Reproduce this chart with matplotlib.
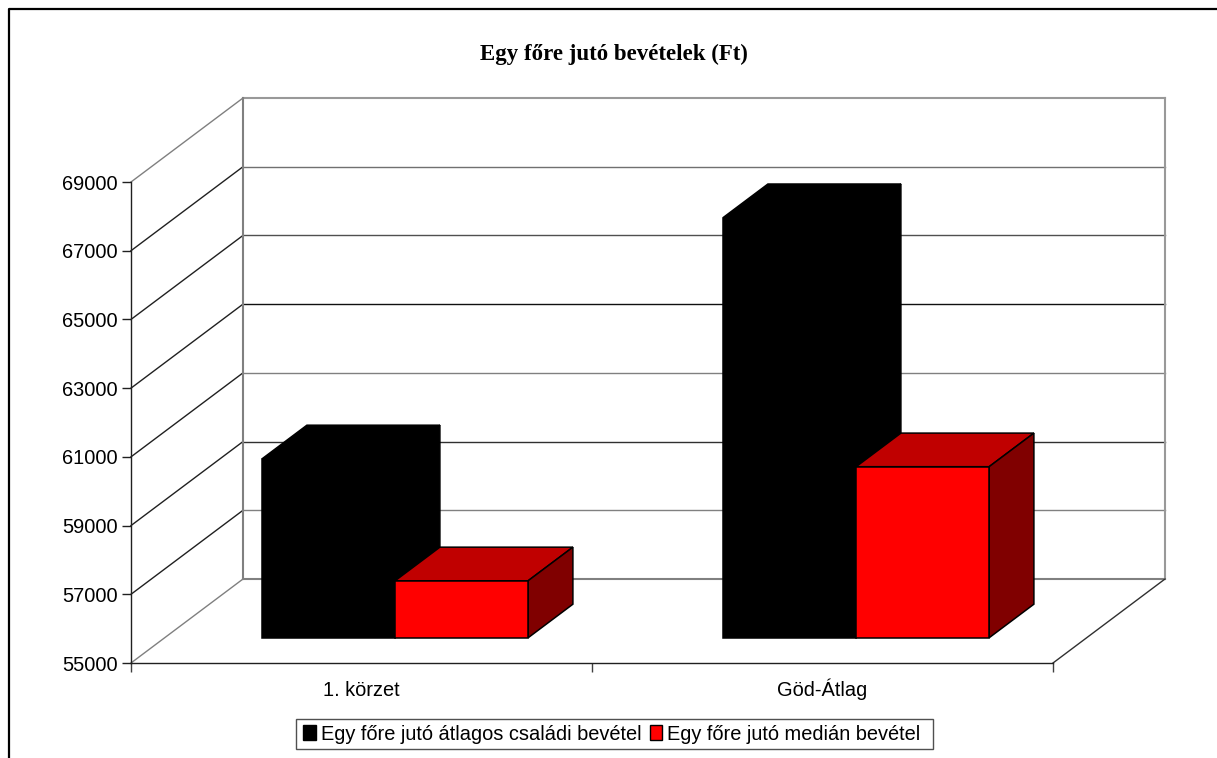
import matplotlib.pyplot as plt
from matplotlib.lines import Line2D
from matplotlib.patches import Patch, Polygon, Rectangle

W, H = 1217, 758

CATEGORIES = ["1. körzet", "Göd-Átlag"]
SERIES = ["Egy főre jutó átlagos családi bevétel", "Egy főre jutó medián bevétel"]
ATLAG = [60210, 67230]
MEDIAN = [56660, 59980]
Y_TICKS = [55000, 57000, 59000, 61000, 63000, 65000, 67000, 69000]

GREY = "#808080"
RED_FACES = ("#ff0000", "#c00000", "#800000")
BLACK_FACES = ("#000000", "#000000", "#000000")

# wall lines render in different greys in the reference
WALL_COLORS = ["#808080", "#808080", "#303030", "#808080",
               "#101010", "#505050", "#707070", "#999999"]

# the 3D box is sheared: full depth moves this far in data units
DEPTH_X = 112 / 461
DEPTH_Y = 84 / (481 / 14000)
GAP = 97.5 / 461  # gap each side of a bar group, in category widths
BAR_W = 133 / 461
BAR_DEPTH_FROM = 0.30
BAR_DEPTH_TO = 0.70

plt.rcParams["font.family"] = ["Liberation Sans", "DejaVu Sans"]

fig = plt.figure(figsize=(W / 100, H / 100), dpi=100, facecolor="white")
ax = fig.add_axes([131 / W, (H - 663) / H, 922 / W, 481 / H])
ax.set_xlim(0, len(CATEGORIES))
ax.set_ylim(Y_TICKS[0], Y_TICKS[-1])
ax.patch.set_visible(False)


def shift(x, y, depth):
    return x + depth * DEPTH_X, y + depth * DEPTH_Y


def draw_walls():
    x_end = len(CATEGORIES)
    y0, y1 = Y_TICKS[0], Y_TICKS[-1]
    for v, color in zip(Y_TICKS, WALL_COLORS):
        ax.plot(*zip(shift(0, v, 0), shift(0, v, 1)),
                color=GREY if v in (y0, y1) else "#202020",
                lw=1.0, clip_on=False, zorder=1)
        ax.plot(*zip(shift(0, v, 1), shift(x_end, v, 1)), color=color,
                lw=1.5 if v in (y0, y1) else 1.0, clip_on=False, zorder=1)
    ax.plot(*zip(shift(0, y0, 1), shift(0, y1, 1)), color=GREY, lw=1.5,
            clip_on=False, zorder=1)
    ax.plot(*zip(shift(x_end, y0, 1), shift(x_end, y1, 1)), color="#999999", lw=1.5,
            clip_on=False, zorder=1)
    ax.plot(*zip(shift(x_end, y0, 0), shift(x_end, y0, 1)), color="#303030",
            lw=1.0, clip_on=False, zorder=1)


def draw_bar(x, value, faces, edge):
    base = Y_TICKS[0]
    x0, x1 = x, x + BAR_W
    d0, d1 = BAR_DEPTH_FROM, BAR_DEPTH_TO
    front = [shift(x0, base, d0), shift(x1, base, d0),
             shift(x1, value, d0), shift(x0, value, d0)]
    top = [shift(x0, value, d0), shift(x1, value, d0),
           shift(x1, value, d1), shift(x0, value, d1)]
    side = [shift(x1, base, d0), shift(x1, base, d1),
            shift(x1, value, d1), shift(x1, value, d0)]
    for pts, face in zip((top, side, front), (faces[1], faces[2], faces[0])):
        ax.add_patch(Polygon(pts, closed=True, facecolor=face, edgecolor=edge,
                             lw=1.1, clip_on=False, zorder=3))


draw_walls()
for i in range(len(CATEGORIES)):
    draw_bar(i + GAP, ATLAG[i], BLACK_FACES, "#000000")
    draw_bar(i + GAP + BAR_W, MEDIAN[i], RED_FACES, "#000000")

for side in ("top", "right"):
    ax.spines[side].set_visible(False)
for side in ("left", "bottom"):
    ax.spines[side].set_linewidth(1.0)
    ax.spines[side].set_color("#202020")

ax.set_yticks(Y_TICKS)
ax.set_yticklabels([str(v) for v in Y_TICKS])
ax.set_xticks(range(len(CATEGORIES) + 1))
ax.set_xticklabels([])
ax.set_xticks([i + 0.5 for i in range(len(CATEGORIES))], minor=True)
ax.set_xticklabels(CATEGORIES, minor=True, va="baseline")
ax.tick_params(axis="y", length=6.5, width=1.0, pad=3, labelsize=14.4, color="#202020")
ax.tick_params(axis="x", which="major", length=6.5, width=1.0, color="#404040")
ax.tick_params(axis="x", which="minor", length=0, pad=24, labelsize=14.4)

fig.text(613.5 / W, 1 - 54 / H, "Egy főre jutó bevételek (Ft)", ha="center", va="center",
         family=["Liberation Serif", "DejaVu Serif"], fontweight="bold", fontsize=16.5)

# outer frame only shows on the top and left, the rest is cropped off
fig.add_artist(Line2D([8.5 / W, 8.5 / W, 1], [0, 1 - 9 / H, 1 - 9 / H], color="black", lw=1.6))

# legend box is a bit wider than its content, so it is drawn separately
fig.add_artist(Rectangle((295.5 / W, 1 - 749 / H), 637.5 / W, 30 / H, transform=fig.transFigure,
                         facecolor="white", edgecolor="#505050", lw=1.0))
handles = [Patch(facecolor="#000000", edgecolor="black", lw=1.0),
           Patch(facecolor="#ff0000", edgecolor="black", lw=1.0)]
leg = fig.legend(handles, SERIES, ncol=2, loc="center", bbox_to_anchor=(612 / W, 1 - 734 / H),
                 fontsize=14.4, frameon=False,
                 handlelength=0.62, handleheight=0.72, handletextpad=0.25,
                 columnspacing=0.42, borderpad=0.28, borderaxespad=0)

fig.savefig("out.png", dpi=100, facecolor="white")
